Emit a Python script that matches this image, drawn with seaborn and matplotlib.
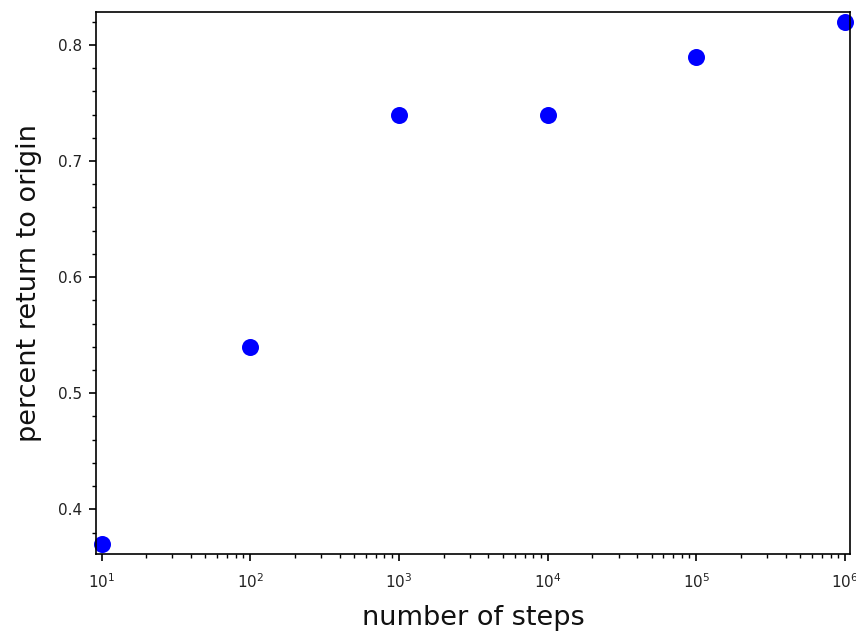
import numpy as np
import pandas as pd
import matplotlib
matplotlib.use("Agg")
import matplotlib.pyplot as plt
import seaborn as sns

# number of steps in the random walk vs fraction that came back to the origin
steps = [1e1, 1e2, 1e3, 1e4, 1e5, 1e6]
returned = [0.37, 0.54, 0.74, 0.74, 0.79, 0.82]

df = pd.DataFrame({"steps": steps, "returned": returned})

fig = plt.figure(figsize=(8.56, 6.31), dpi=100)
ax = fig.add_axes([0.112, 0.122, 0.881, 0.859])

sns.scatterplot(data=df, x="steps", y="returned", color="blue",
                s=150, edgecolor="blue", linewidth=0, ax=ax, clip_on=False)

ax.set_xscale("log")
ax.set_xlim(10 ** 0.962, 10 ** 6.034)
ax.set_ylim(0.3615, 0.8284)
ax.yaxis.set_minor_locator(matplotlib.ticker.MultipleLocator(0.02))
ax.tick_params(which="major", length=5, width=1.2,
               labelsize=11, labelcolor="#222222")
ax.tick_params(axis="x", which="major", pad=8)
ax.tick_params(axis="y", which="major", pad=5)
ax.tick_params(which="minor", length=3, width=1.0)
for sp in ax.spines.values():
    sp.set_linewidth(1.2)

ax.set_xlabel("number of steps", fontsize=19.5, color="#111111", labelpad=10)
ax.set_ylabel("percent return to origin", fontsize=19.5, color="#111111", labelpad=11)

fig.savefig("out.png", dpi=100)
